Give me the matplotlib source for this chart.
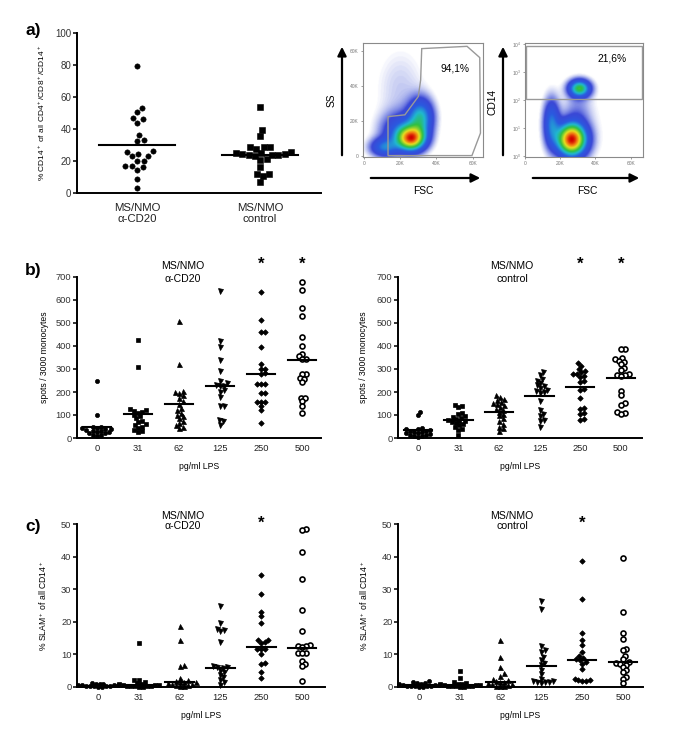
import numpy as np
import matplotlib
matplotlib.use("Agg")
import matplotlib.pyplot as plt
from matplotlib import font_manager
from matplotlib.patches import FancyArrowPatch, Polygon, Rectangle
from matplotlib.colors import LinearSegmentedColormap
from matplotlib.transforms import blended_transform_factory

names = {f.name for f in font_manager.fontManager.ttflist}
SANS = "Liberation Sans" if "Liberation Sans" in names else "DejaVu Sans"
NARROW = "Liberation Sans Narrow" if "Liberation Sans Narrow" in names else SANS
plt.rcParams["font.family"] = [SANS, "DejaVu Sans"]
plt.rcParams["mathtext.fontset"] = "custom"
plt.rcParams["mathtext.rm"] = SANS
plt.rcParams["mathtext.it"] = SANS + ":italic"
plt.rcParams["mathtext.bf"] = SANS + ":bold"

# ---------------- data ----------------
groups_a = ["MS/NMO\nα-CD20", "MS/NMO\ncontrol"]
a_cd20 = [79.2, 53.1, 50.6, 46.9, 46.0, 43.8, 36.5, 33.3, 32.7, 26.0, 25.6,
          24.4, 23.3, 22.9, 20.2, 20.2, 16.7, 17.1, 16.0, 14.6, 8.8, 3.1]
a_control = [53.8, 39.2, 35.4, 28.5, 27.5, 28.5, 29.0, 25.2, 25.6, 24.2, 23.8,
             23.3, 23.5, 24.0, 24.2, 24.8, 21.3, 20.8, 16.3, 12.0, 12.0, 10.4, 6.7]
a_lines = [30.0, 23.8]

lps = ["0", "31", "62", "125", "250", "500"]

b_cd20 = [
    [249, 101, 50, 48, 45, 42, 40, 38, 35, 32, 30, 28, 25, 22, 20, 15, 12, 10],
    [427, 309, 125, 120, 118, 115, 110, 100, 95, 85, 75, 70, 60, 55, 50, 45, 35, 30, 28],
    [507, 323, 205, 200, 195, 185, 175, 160, 150, 130, 120, 110, 100, 95, 85, 75, 65, 55, 48, 45],
    [640, 420, 395, 340, 290, 250, 240, 232, 228, 225, 210, 200, 180, 140, 138, 80, 72, 58],
    [635, 515, 460, 460, 395, 322, 302, 300, 283, 280, 235, 235, 235, 196, 196, 155, 155, 155, 138, 120, 65],
    [677, 642, 565, 529, 439, 401, 367, 355, 345, 343, 280, 278, 262, 258, 243, 176, 174, 160, 138, 110],
]
b_cd20_lines = [46, 104, 148, 228, 280, 338]

b_control = [
    [115, 100, 45, 40, 38, 35, 32, 30, 28, 25, 22, 20, 18, 15, 12, 10, 8, 5],
    [143, 138, 133, 108, 103, 95, 92, 88, 84, 80, 75, 73, 70, 65, 60, 55, 48, 40, 36, 12],
    [185, 178, 170, 165, 158, 152, 148, 142, 135, 128, 122, 115, 105, 98, 85, 75, 60, 50, 42, 32],
    [288, 275, 255, 250, 240, 230, 225, 218, 210, 205, 200, 195, 160, 120, 105, 95, 80, 75, 50],
    [327, 315, 300, 290, 285, 280, 278, 270, 265, 250, 245, 215, 210, 175, 130, 128, 110, 105, 82, 78],
    [388, 385, 348, 342, 335, 330, 320, 305, 295, 278, 275, 272, 270, 205, 185, 152, 145, 115, 108, 105],
]
b_control_lines = [33, 77, 115, 183, 220, 259]

c_cd20 = [
    [1.2, 1.0, 0.9, 0.8, 0.7, 0.6, 0.5, 0.5, 0.4, 0.3, 0.3, 0.2, 0.2, 0.1, 0.1],
    [13.5, 2.3, 2.0, 1.5, 1.2, 1.0, 0.8, 0.7, 0.6, 0.5, 0.4, 0.3, 0.3, 0.2, 0.2, 0.1, 0.1],
    [18.8, 14.3, 6.9, 6.5, 2.8, 2.0, 1.8, 1.6, 1.5, 1.4, 1.3, 1.0, 0.8, 0.6, 0.5, 0.4, 0.2],
    [25.0, 19.7, 17.8, 17.5, 17.2, 13.8, 6.4, 6.2, 6.0, 5.8, 5.0, 4.5, 3.8, 3.0, 2.2, 1.4, 0.7],
    [34.4, 28.5, 23.0, 21.7, 19.7, 14.5, 14.3, 13.7, 13.5, 11.6, 11.6, 11.6, 10.2, 7.4, 7.1, 4.6, 2.9],
    [48.5, 48.1, 41.3, 33.1, 23.7, 17.1, 12.8, 12.6, 12.5, 12.3, 10.5, 10.4, 10.3, 8.0, 7.2, 6.4, 1.8],
]
c_cd20_lines = [0.4, 0.5, 1.5, 5.8, 12.2, 11.9]

c_control = [
    [1.8, 1.5, 1.3, 1.2, 1.0, 0.8, 0.7, 0.6, 0.5, 0.4, 0.3, 0.3, 0.2, 0.2, 0.1, 0.1],
    [4.9, 2.9, 1.5, 1.2, 1.0, 0.9, 0.8, 0.7, 0.6, 0.5, 0.4, 0.3, 0.3, 0.2, 0.2, 0.1, 0.1],
    [14.4, 9.3, 6.1, 4.2, 3.5, 2.5, 2.0, 1.8, 1.6, 1.5, 1.2, 1.0, 0.8, 0.6, 0.4, 0.3, 0.2],
    [26.3, 24.0, 12.5, 11.5, 10.8, 9.2, 8.2, 7.5, 6.6, 5.3, 4.0, 2.6, 1.9, 1.7, 1.6, 1.5, 1.4, 1.3],
    [38.5, 27.0, 16.6, 14.3, 13.0, 10.8, 9.5, 9.0, 8.5, 8.2, 7.8, 7.2, 5.5, 2.6, 2.2, 2.0, 1.9, 1.8],
    [39.5, 23.0, 16.6, 14.7, 11.8, 11.2, 9.6, 8.5, 7.6, 7.5, 7.2, 6.8, 6.2, 5.2, 4.6, 3.2, 2.4, 1.2],
]
c_control_lines = [0.5, 0.6, 1.5, 6.4, 8.3, 7.6]

b_stars = ["250", "500"]
c_stars = ["250"]

# flow cytometry populations: (FSC centre, y centre, FSC sd, y sd, weight)
flow1_pops = [(26, 10, 5.0, 4.5, 1.0), (31, 22, 4.5, 7.0, 0.5), (11, 5, 5.0, 3.5, 0.35),
              (20, 14, 7.0, 7.0, 0.3), (20, 38, 9.0, 16.0, 0.05)]
flow1_gate = [(31.9, 61.3), (56.9, 62.6), (63.9, 56.2), (64.3, 13.2), (59.6, 0.4),
              (13.3, 0.4), (13.3, 22.6), (22.6, 23.6), (30.0, 34.0), (31.3, 43.4)]
flow2_pops = [(26.5, 0.6, 5.5, 0.38, 1.0), (31, 2.43, 4.0, 0.2, 0.55), (15, 1.2, 3.0, 0.55, 0.3),
              (30, 1.6, 5.0, 0.5, 0.06), (30, 1.0, 10.0, 0.9, 0.03)]
flow2_gate_y = 2.04

# ---------------- layout helpers ----------------
W, H = 685, 750
fig = plt.figure(figsize=(W / 100, H / 100), dpi=100)


def add_ax(x0, y0, x1, y1):
    return fig.add_axes([x0 / W, 1 - y1 / H, (x1 - x0) / W, (y1 - y0) / H])


def fx(x):
    return x / W


def fy(y):
    return 1 - y / H


def prism(ax):
    for s in ["top", "right"]:
        ax.spines[s].set_visible(False)
    for s in ["left", "bottom"]:
        ax.spines[s].set_linewidth(1.4)
    ax.tick_params(axis="y", length=3, width=1.1, pad=1, colors="black", labelcolor="#333333")
    ax.tick_params(axis="x", length=0, labelcolor="#222222")


def swarm(ax, xc, vals, d, cap):
    vals = np.asarray(vals, float)
    pts = ax.transData.transform(np.column_stack([np.full(len(vals), xc), vals]))
    x0, ys = pts[0, 0], pts[:, 1]
    cand = [0.0]
    for s in np.arange(0.5, cap + 0.01, 0.5):
        cand += [s, -s]
    cand = np.array(cand)
    px, py = [], []
    offs = np.zeros(len(vals))
    for i in np.argsort(ys):
        off = 0.0
        if px:
            dist = np.sqrt((cand[:, None] - np.array(px)[None, :]) ** 2
                           + (ys[i] - np.array(py)[None, :]) ** 2).min(axis=1)
            ok = np.nonzero(dist >= d)[0]
            off = cand[ok[0]] if len(ok) else cand[int(np.argmax(dist))]
        px.append(off)
        py.append(ys[i])
        offs[i] = off
    return ax.transData.inverted().transform(np.column_stack([x0 + offs, ys]))[:, 0]


markers = [("o", 3.0, "black", 0.5), ("s", 3.0, "black", 0.5), ("^", 3.6, "black", 0.5),
           ("v", 3.6, "black", 0.5), ("D", 2.8, "black", 0.5), ("o", 3.6, "white", 1.2)]


def lps_panel(ax, cols, lines, ymax, yticks, ylabel, stars, title, title_x, title_y, lsp, star_y,
              label_px):
    prism(ax)
    ax.set_ylim(0, ymax)
    ax.set_yticks(yticks)
    ax.set_xticks(range(len(lps)))
    ax.set_xticklabels(lps, fontsize=6.7, family=NARROW)
    ax.tick_params(axis="x", pad=4)
    for t in ax.get_yticklabels():
        t.set_fontsize(6.7)
        t.set_family(NARROW)
    for i, vals in enumerate(cols):
        m, ms, fc, mew = markers[i]
        xs = swarm(ax, i, vals, 3.9, 20)
        ax.plot(xs, vals, ls="none", marker=m, ms=ms, mfc=fc, mec="black", mew=mew,
                clip_on=False, zorder=3)
        ax.plot([i - 0.35, i + 0.35], [lines[i], lines[i]], color="black", lw=1.5, zorder=4)
    ax.set_xlabel("pg/ml LPS", fontsize=6.2, family=NARROW, labelpad=7)
    ax.set_ylabel(ylabel, fontsize=6.2)
    ax.yaxis.set_label_coords(-label_px / (ax.get_position().width * W), 0.5)
    ax.text(title_x, title_y, title, transform=ax.transAxes, ha="center", va="center",
            fontsize=7.6, linespacing=lsp)
    tr = blended_transform_factory(ax.transData, ax.transAxes)
    for s in stars:
        ax.text(lps.index(s), star_y, "*", transform=tr, ha="center", va="baseline",
                fontsize=12, fontweight="bold")


# ---------------- panel a ----------------
ax = add_ax(77, 33, 321, 193)
prism(ax)
ax.set_xlim(0.512, 2.496)
ax.set_ylim(0, 100)
ax.set_yticks(range(0, 101, 20))
for t in ax.get_yticklabels():
    t.set_fontsize(7)
ax.set_xticks([1, 2])
ax.set_xticklabels(groups_a, fontsize=8.2, linespacing=1.15)
ax.tick_params(axis="x", pad=7)
for i, (vals, m) in enumerate([(a_cd20, "o"), (a_control, "s")]):
    xs = swarm(ax, i + 1, vals, 6.4, 32)
    ax.plot(xs, vals, ls="none", marker=m, ms=3.8, mfc="black", mec="black", mew=0.4,
            clip_on=False, zorder=3)
    ax.plot([i + 1 - 0.31, i + 1 + 0.31], [a_lines[i], a_lines[i]], color="black", lw=1.5, zorder=4)
ax.set_ylabel("% CD14$^+$ of all CD4$^+$/CD8$^+$/CD14$^+$", fontsize=6)
ax.yaxis.set_label_coords(-30 / 244, 0.5)

# ---------------- flow cytometry panels ----------------
cmap = LinearSegmentedColormap.from_list("flow", [
    (0.0, "white"), (0.012, "white"), (0.025, "#e2e5f8"), (0.06, "#9aa4ea"), (0.12, "#3a48d6"),
    (0.26, "#2a5ae0"), (0.4, "#20b8d0"), (0.54, "#30c040"), (0.74, "#e8e020"),
    (0.88, "#f07010"), (1.0, "#d00000")])


def flow_density(ax, pops, xlim, ylim):
    gx = np.linspace(xlim[0], xlim[1], 240)
    gy = np.linspace(ylim[0], ylim[1], 240)
    X, Y = np.meshgrid(gx, gy)
    Z = np.zeros_like(X)
    for cx, cy, sx, sy, w in pops:
        Z += w * np.exp(-0.5 * (((X - cx) / sx) ** 2 + ((Y - cy) / sy) ** 2))
    Z = Z / Z.max()
    ax.imshow(Z, origin="lower", extent=[xlim[0], xlim[1], ylim[0], ylim[1]], aspect="auto",
              cmap=cmap, vmin=0, vmax=1, interpolation="bilinear")


def flow_style(ax):
    for s in ax.spines.values():
        s.set_color("#8a8a8a")
        s.set_linewidth(0.8)
    ax.tick_params(length=1.5, width=0.5, colors="#777777", labelsize=3.5, pad=1.5)


f1 = add_ax(363, 43, 483, 157)
xl1, yl1 = (-0.5, 65.7), (-0.4, 64.5)
flow_density(f1, flow1_pops, xl1, yl1)
f1.set_xlim(*xl1)
f1.set_ylim(*yl1)
f1.set_xticks([0, 20, 40, 60])
f1.set_xticklabels(["0", "20K", "40K", "60K"])
f1.set_yticks([0, 20, 40, 60])
f1.set_yticklabels(["0", "20K", "40K", "60K"])
flow_style(f1)
f1.add_patch(Polygon(flow1_gate, closed=True, fill=False, ec="#999999", lw=1.0))
f1.text(0.767, 0.78, "94,1%", transform=f1.transAxes, ha="center", va="center", fontsize=7.4)

f2 = add_ax(525, 43, 643, 157)
xl2, yl2 = (0, 67), (-0.02, 4.05)
flow_density(f2, flow2_pops, xl2, yl2)
f2.set_xlim(*xl2)
f2.set_ylim(*yl2)
f2.set_xticks([0, 20, 40, 60])
f2.set_xticklabels(["0", "20K", "40K", "60K"])
f2.set_yticks([0, 1, 2, 3, 4])
f2.set_yticklabels([f"$10^{k}$" for k in range(5)])
flow_style(f2)
f2.add_patch(Rectangle((0.3, flow2_gate_y), 66.2, 3.95 - flow2_gate_y, fill=False, ec="#999999", lw=1.0))
f2.text(0.737, 0.868, "21,6%", transform=f2.transAxes, ha="center", va="center", fontsize=7.4)

for (x0, y0, x1, y1) in [(342, 158, 342, 44), (368, 178, 483, 178),
                         (503, 158, 503, 44), (530, 178, 642, 178)]:
    fig.add_artist(FancyArrowPatch((fx(x0), fy(y0)), (fx(x1), fy(y1)), transform=fig.transFigure,
                                   arrowstyle="-|>", mutation_scale=13, lw=1.6, color="black"))
fig.text(fx(423), fy(191), "FSC", ha="center", va="center", fontsize=7.4)
fig.text(fx(587), fy(191), "FSC", ha="center", va="center", fontsize=7.4)
fig.text(fx(332), fy(100), "SS", ha="center", va="center", fontsize=7.4, rotation=90)
fig.text(fx(493), fy(102), "CD14", ha="center", va="center", fontsize=7.4, rotation=90)

# ---------------- panels b ----------------
bl = add_ax(77, 277, 321, 438)
bl.set_xlim(-0.49, 5.46)
lps_panel(bl, b_cd20, b_cd20_lines, 700, range(0, 701, 100), "spots / 3000 monocytes",
          b_stars, "MS/NMO\nα-CD20", 0.434, 1.028, 1.3, 1.05, 28)
br = add_ax(398, 277, 642, 438)
br.set_xlim(-0.49, 5.52)
lps_panel(br, b_control, b_control_lines, 700, range(0, 701, 100), "spots / 3000 monocytes",
          b_stars, "MS/NMO\ncontrol", 0.467, 1.028, 1.3, 1.05, 30)

# ---------------- panels c ----------------
cl = add_ax(77, 524, 325, 687)
cl.set_xlim(-0.51, 5.56)
lps_panel(cl, c_cd20, c_cd20_lines, 50, range(0, 51, 10), "% SLAM$^+$ of all CD14$^+$",
          c_stars, "MS/NMO\nα-CD20", 0.427, 1.02, 1.05, 0.975, 28)
cr = add_ax(398, 524, 643, 687)
cr.set_xlim(-0.51, 5.49)
lps_panel(cr, c_control, c_control_lines, 50, range(0, 51, 10), "% SLAM$^+$ of all CD14$^+$",
          c_stars, "MS/NMO\ncontrol", 0.465, 1.02, 1.05, 0.975, 28)

for lab, y in [("a)", 30), ("b)", 271), ("c)", 527)]:
    fig.text(fx(33), fy(y), lab, ha="center", va="center", fontsize=12.5, fontweight="bold")

fig.savefig("out.png", dpi=100)
